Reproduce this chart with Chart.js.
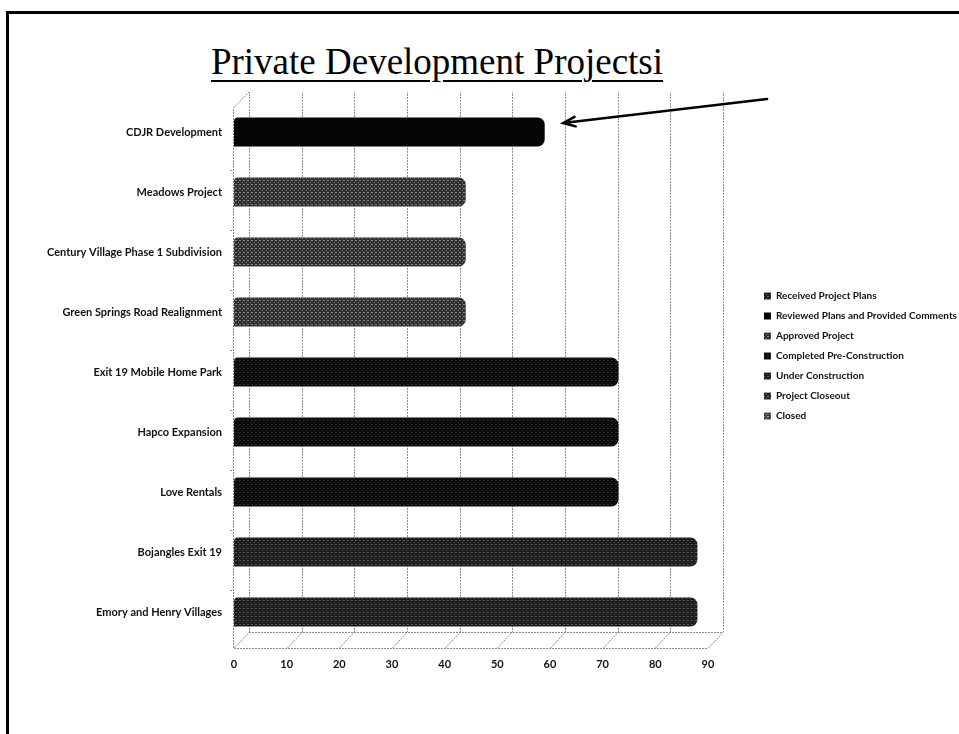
<!DOCTYPE html>
<html>
<head>
<meta charset="utf-8">
<title>Private Development Projects</title>
<script src="https://cdn.jsdelivr.net/npm/chart.js@4.4.1/dist/chart.umd.min.js"></script>
<style>
  html, body { margin: 0; padding: 0; background: #fff; }
  body { width: 959px; height: 734px; position: relative; overflow: hidden; }
  #frame { position: absolute; left: 6px; top: 11px; width: 1000px; height: 1000px; border: 3px solid #000; box-sizing: border-box; }
  #title { position: absolute; left: 0; width: 874px; top: 40px; text-align: center; font-family: "Liberation Serif", "Times New Roman", serif; font-size: 37px; color: #000; text-decoration: underline; text-decoration-thickness: 2px; text-underline-offset: 6px; }
  #wrap { position: absolute; left: 0; top: 0; width: 959px; height: 734px; }
</style>
</head>
<body>
<div id="frame"></div>
<div id="title">Private Development Projectsi</div>
<div id="wrap"><canvas id="chartProjetos"></canvas></div>
<script>
// data
const categories = [
  "CDJR Development",
  "Meadows Project",
  "Century Village Phase 1 Subdivision",
  "Green Springs Road Realignment",
  "Exit 19 Mobile Home Park",
  "Hapco Expansion",
  "Love Rentals",
  "Bojangles Exit 19",
  "Emory and Henry Villages"
];
const seriesNames = [
  "Received Project Plans",
  "Reviewed Plans and Provided Comments",
  "Approved Project",
  "Completed Pre-Construction",
  "Under Construction",
  "Project Closeout",
  "Closed"
];
const receivedPlans            = [null, null, null, null, null, null, null, null, null];
const reviewedPlans            = [59, null, null, null, null, null, null, null, null];
const approvedProject          = [null, 44, 44, 44, null, null, null, null, null];
const completedPreConstruction = [null, null, null, null, 73, 73, 73, null, null];
const underConstruction        = [null, null, null, null, null, null, null, 88, 88];
const projectCloseout          = [null, null, null, null, null, null, null, null, null];
const closed                   = [null, null, null, null, null, null, null, null, null];
const xTicks = [0, 10, 20, 30, 40, 50, 60, 70, 80, 90];

// arrow pointing at the CDJR bar
const arrowCategory = "CDJR Development";
const arrowValue = 62.5;

// 3d look
const depthX = 15;
const depthY = -16;
const legendShiftY = -16;
const legendShiftX = 8;

/**
 * textura pontilhada para as barras
 */
function speckle(base, dot) {
  const c = document.createElement("canvas");
  c.width = 4; c.height = 4;
  const g = c.getContext("2d");
  g.fillStyle = base;
  g.fillRect(0, 0, 4, 4);
  g.fillStyle = dot;
  g.fillRect(0, 0, 1, 1);
  g.fillRect(2, 2, 1, 1);
  g.fillRect(3, 0, 1, 1);
  return g.createPattern(c, "repeat");
}

const seriesData = [receivedPlans, reviewedPlans, approvedProject, completedPreConstruction, underConstruction, projectCloseout, closed];
const seriesFill = [
  speckle("#1c1c1c", "#6a6a6a"),
  "#050505",
  speckle("#2e2e2e", "#8c8c8c"),
  speckle("#0a0a0a", "#2c2c2c"),
  speckle("#1a1a1a", "#5c5c5c"),
  speckle("#262626", "#767676"),
  speckle("#404040", "#9a9a9a")
];

const wall3d = {
  id: "wall3d",
  beforeDatasetsDraw(chart) {
    const { ctx, chartArea: a, scales: { x } } = chart;
    const floorY = a.bottom + 6;
    const topY = a.top - 10;
    const x0 = x.getPixelForValue(x.min);
    const x1 = x.getPixelForValue(x.max);
    ctx.save();
    ctx.strokeStyle = "#8a8a8a";
    ctx.lineWidth = 1;
    ctx.setLineDash([2, 1]);
    ctx.beginPath();
    x.ticks.forEach(t => {
      const px = Math.round(x.getPixelForValue(t.value)) + 0.5;
      ctx.moveTo(px, floorY);
      ctx.lineTo(px + depthX, floorY + depthY);
      ctx.lineTo(px + depthX, topY);
    });
    ctx.moveTo(x0, floorY + 0.5);
    ctx.lineTo(x1, floorY + 0.5);
    ctx.moveTo(x0 + depthX, floorY + depthY + 0.5);
    ctx.lineTo(x1 + depthX, floorY + depthY + 0.5);
    ctx.moveTo(x0 - 0.5, floorY);
    ctx.lineTo(x0 - 0.5, topY - depthY);
    ctx.lineTo(x0 + depthX, topY);
    const step = a.height / categories.length;
    for (let i = 1; i < categories.length; i++) {
      const py = Math.round(a.top + i * step + 8) + 0.5;
      ctx.moveTo(x0 - 4, py);
      ctx.lineTo(x0, py);
    }
    ctx.stroke();
    ctx.restore();
  }
};

const arrowPlugin = {
  id: "arrowPlugin",
  afterDatasetsDraw(chart) {
    const { ctx, scales: { x, y } } = chart;
    const tipX = x.getPixelForValue(arrowValue);
    const tipY = y.getPixelForValue(categories.indexOf(arrowCategory)) - 9;
    const tailX = tipX + 204;
    const tailY = tipY - 24;
    const ang = Math.atan2(tailY - tipY, tailX - tipX);
    ctx.save();
    ctx.strokeStyle = "#000";
    ctx.lineWidth = 2.5;
    ctx.lineCap = "round";
    ctx.beginPath();
    ctx.moveTo(tailX, tailY);
    ctx.lineTo(tipX, tipY);
    ctx.moveTo(tipX + 13 * Math.cos(ang + 0.38), tipY + 13 * Math.sin(ang + 0.38));
    ctx.lineTo(tipX, tipY);
    ctx.lineTo(tipX + 13 * Math.cos(ang - 0.38), tipY + 13 * Math.sin(ang - 0.38));
    ctx.stroke();
    ctx.restore();
  }
};

const legendNudge = {
  id: "legendNudge",
  afterLayout(chart) {
    const l = chart.legend;
    if (!l) return;
    l.top += legendShiftY;
    l.bottom += legendShiftY;
    l.left += legendShiftX;
    l.right += legendShiftX;
  }
};

/**
 * monta o grafico
 */
function initializeProjectsChart() {
  const ctx = document.getElementById("chartProjetos").getContext("2d");
  const labelFont = { family: "Lato", size: 11, weight: "bold" };
  const legendFont = { family: "Lato", size: 10, weight: "bold" };

  new Chart(ctx, {
    type: "bar",
    data: {
      labels: categories,
      datasets: seriesNames.map((name, i) => ({
        label: name,
        data: seriesData[i],
        backgroundColor: seriesFill[i],
        borderWidth: 0,
        borderSkipped: false,
        borderRadius: { topLeft: 4, topRight: 7, bottomRight: 7, bottomLeft: 0 },
        barPercentage: 0.9,
        categoryPercentage: 0.54
      }))
    },
    options: {
      indexAxis: "y",
      responsive: false,
      animation: false,
      layout: { padding: { top: 102, left: 0, right: 0, bottom: 0 } },
      scales: {
        x: {
          stacked: true,
          min: 0,
          max: 90,
          afterBuildTicks: s => { s.ticks = xTicks.map(v => ({ value: v })); },
          grid: { display: false, drawTicks: false },
          border: { display: false },
          ticks: { padding: 16, color: "#111", font: labelFont, maxRotation: 0 },
          afterFit: s => { s.height = 92; }
        },
        y: {
          stacked: true,
          grid: { display: false, drawTicks: false },
          border: { display: false },
          ticks: { padding: 12, color: "#111", font: labelFont, autoSkip: false },
          afterFit: s => { s.width = 234; }
        },
        gap: {
          type: "category",
          labels: categories,
          position: "right",
          grid: { display: false, drawTicks: false },
          border: { display: false },
          ticks: { display: false },
          afterFit: s => { s.width = 38; }
        }
      },
      plugins: {
        legend: {
          position: "right",
          align: "center",
          fullSize: false,
          maxWidth: 260,
          labels: {
            boxWidth: 7,
            boxHeight: 7,
            padding: 10,
            color: "#111",
            font: legendFont
          }
        },
        tooltip: { enabled: false }
      }
    },
    plugins: [wall3d, arrowPlugin, legendNudge]
  });
}

window.onload = () => {
  const c = document.getElementById("chartProjetos");
  c.width = 959;
  c.height = 734;
  const ready = document.fonts ? document.fonts.load("bold 11px Lato") : Promise.resolve();
  ready.then(initializeProjectsChart, initializeProjectsChart);
};
</script>
</body>
</html>
